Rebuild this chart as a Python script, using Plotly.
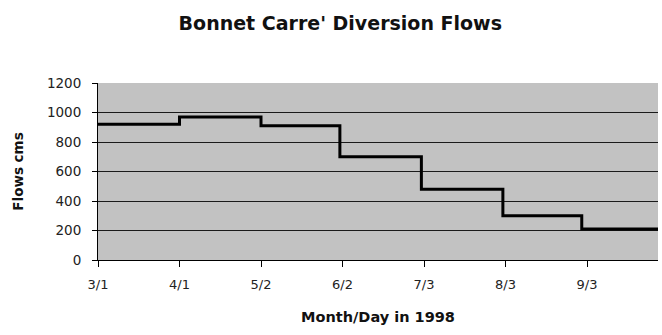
import plotly.graph_objects as go

# Diversion flow steps: date each flow rate took effect, and the rate (cms)
step_dates = ["1998-03-01", "1998-04-01", "1998-05-02", "1998-06-01",
              "1998-07-02", "1998-08-02", "1998-09-01", "1998-09-30"]
step_flows = [920, 970, 910, 700, 480, 300, 210, 210]

tick_dates = ["1998-03-01", "1998-04-01", "1998-05-02", "1998-06-02",
              "1998-07-03", "1998-08-03", "1998-09-03"]
tick_labels = ["3/1", "4/1", "5/2", "6/2", "7/3", "8/3", "9/3"]

y_ticks = [0, 200, 400, 600, 800, 1000, 1200]

font = "DejaVu Sans, Verdana, sans-serif"

fig = go.Figure()
fig.add_trace(go.Scatter(
    x=step_dates, y=step_flows, mode="lines",
    line=dict(color="black", width=3, shape="hv"),
    showlegend=False,
))

fig.update_layout(
    width=662, height=335,
    margin=dict(l=98, r=4, t=83, b=75),
    paper_bgcolor="white",
    plot_bgcolor="#c2c2c2",
    title=dict(text="<b>Bonnet Carre' Diversion Flows</b>", x=0.514, y=0.93,
               xanchor="center", yanchor="middle",
               font=dict(family=font, size=19, color="#111")),
    font=dict(family=font, size=12, color="#222"),
)

fig.update_xaxes(
    type="date",
    range=["1998-03-01", "1998-09-30"],
    tickvals=tick_dates, ticktext=tick_labels,
    ticks="outside", ticklen=6, tickcolor="black",
    ticklabelstandoff=6,
    showline=True, linecolor="black", linewidth=1,
    showgrid=False, zeroline=False,
    title=dict(text="<b>Month/Day in 1998</b>", standoff=21,
               font=dict(family=font, size=14.5, color="#111")),
    tickfont=dict(family=font, size=13, color="#222"),
)

fig.update_yaxes(
    range=[0, 1200],
    tickvals=y_ticks,
    ticks="outside", ticklen=5, tickcolor="black",
    ticklabelstandoff=8,
    showline=True, linecolor="black", linewidth=1,
    showgrid=True, gridcolor="#1a1a1a", gridwidth=1,
    zeroline=False,
    title=dict(text="<b>Flows cms</b>", standoff=20,
               font=dict(family=font, size=13.5, color="#111")),
    tickfont=dict(family=font, size=13.5, color="#222"),
)

fig.write_html("out.html")
